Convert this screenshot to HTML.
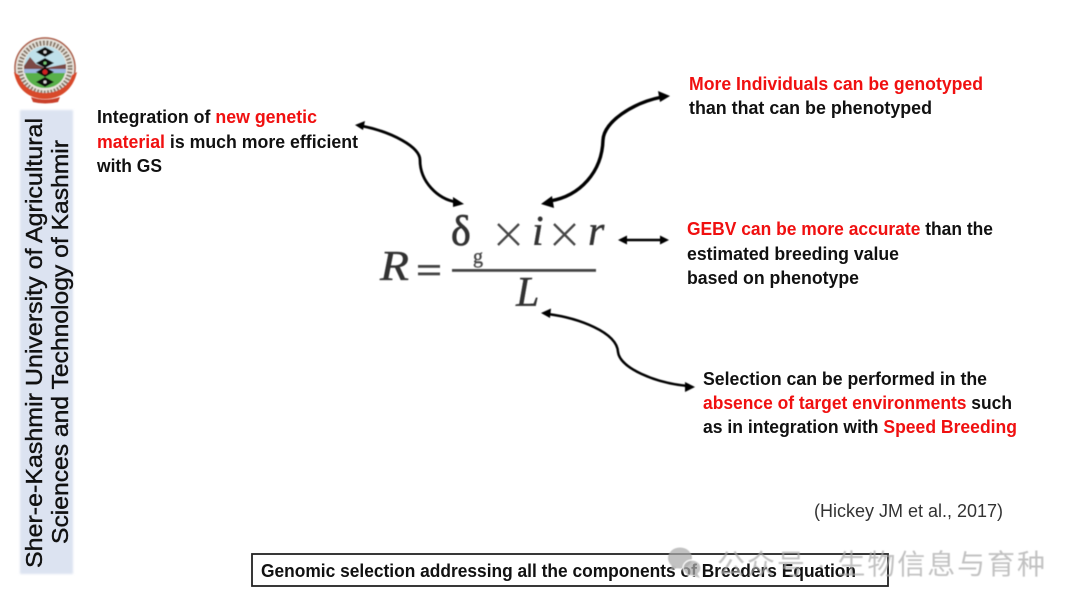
<!DOCTYPE html>
<html><head><meta charset="utf-8"><style>
html,body{margin:0;padding:0;background:#fff}
svg{display:block}
.t{font-family:"Liberation Sans",sans-serif;font-weight:bold;font-size:18.5px;fill:#111}
.r{fill:#f01010}
.m{font-family:"Liberation Serif",serif;fill:#333;font-style:italic;stroke:#333;stroke-width:.4}
</style></head><body>
<svg width="1080" height="608" viewBox="0 0 1080 608" xmlns="http://www.w3.org/2000/svg">
<defs>
<filter id="b"><feGaussianBlur stdDeviation="0.4"/></filter>
<filter id="b2"><feGaussianBlur stdDeviation="1"/></filter>
</defs>
<rect width="1080" height="608" fill="#fff"/>

<!-- logo -->
<g filter="url(#b)">
<circle cx="45" cy="68" r="30" fill="#e8e4dc" stroke="#a9573f" stroke-width="1.5"/>
<circle cx="45" cy="68" r="25" fill="none" stroke="#6f5f50" stroke-width="5" stroke-dasharray="2 1.5" opacity=".8"/>
<circle cx="45" cy="67" r="21" fill="#bfe0ea"/>
<path d="M24 66 L30 57 L36 64 L45 68 L66 64 L66 70 L24 70Z" fill="#7c4a45"/>
<path d="M24 69H66V73H24Z" fill="#9ab6de"/>
<path d="M25 73H65C63 82 55 88 45 88C35 88 27 82 25 73Z" fill="#58b04a"/>
<g fill="#111">
<path d="M45 47l9 5-9 5-9-5z"/><path d="M45 58l9 5-9 5-9-5z"/><path d="M45 67l9 5-9 5-9-5z"/><path d="M45 77l9 5-9 5-9-5z"/>
</g>
<circle cx="45" cy="72" r="2.500" fill="#d02020"/>
<circle cx="45" cy="52" r="1.500" fill="#ddd"/><circle cx="45" cy="63" r="1.500" fill="#7c7"/><circle cx="45" cy="82" r="1.500" fill="#ddd"/>
<path d="M14 72 C17 90 30 99 45 99 C60 99 73 90 77 72 L72 75 C69 86 58 93 45 93 C32 93 22 86 19 75Z" fill="#d8492c"/>
<path d="M31 97Q45 102 60 97L58 102Q45 105 33 102Z" fill="#c9402a"/>
</g>

<!-- sidebar -->
<rect x="20" y="110" width="53" height="464" fill="#dce3f1" filter="url(#b2)"/>
<g font-family="Liberation Sans,sans-serif" font-size="23" fill="#111" stroke="#111" stroke-width=".4">
<text transform="translate(42 568) rotate(-90)" textLength="450" lengthAdjust="spacingAndGlyphs">Sher-e-Kashmir University of Agricultural</text>
<text transform="translate(68 544) rotate(-90)" textLength="404" lengthAdjust="spacingAndGlyphs">Sciences and Technology of Kashmir</text>
</g>

<!-- left text -->
<text class="t" x="97" y="123" textLength="220" lengthAdjust="spacingAndGlyphs">Integration of <tspan class="r">new genetic</tspan></text>
<text class="t" x="97" y="148" textLength="261" lengthAdjust="spacingAndGlyphs"><tspan class="r">material</tspan> is much more efficient</text>
<text class="t" x="97" y="172" textLength="65" lengthAdjust="spacingAndGlyphs">with GS</text>

<!-- top right -->
<text class="t r" x="689" y="90" textLength="294" lengthAdjust="spacingAndGlyphs">More Individuals can be genotyped</text>
<text class="t" x="689" y="114" textLength="243" lengthAdjust="spacingAndGlyphs">than that can be phenotyped</text>

<!-- mid right -->
<text class="t" x="687" y="235" textLength="306" lengthAdjust="spacingAndGlyphs"><tspan class="r">GEBV can be more accurate</tspan> than the</text>
<text class="t" x="687" y="260" textLength="212" lengthAdjust="spacingAndGlyphs">estimated breeding value</text>
<text class="t" x="687" y="284" textLength="172" lengthAdjust="spacingAndGlyphs">based on phenotype</text>

<!-- lower right -->
<text class="t" x="703" y="385" textLength="284" lengthAdjust="spacingAndGlyphs">Selection can be performed in the</text>
<text class="t" x="703" y="409" textLength="309" lengthAdjust="spacingAndGlyphs"><tspan class="r">absence of target environments</tspan> such</text>
<text class="t" x="703" y="433" textLength="314" lengthAdjust="spacingAndGlyphs">as in integration with <tspan class="r">Speed Breeding</tspan></text>

<text x="814" y="517" font-family="Liberation Sans,sans-serif" font-size="18" fill="#333" textLength="189" lengthAdjust="spacingAndGlyphs">(Hickey JM et al., 2017)</text>

<!-- formula -->
<g filter="url(#b)">
<text class="m" x="380" y="280" font-size="42" textLength="29" lengthAdjust="spacingAndGlyphs">R</text>
<rect x="418" y="265" width="22" height="2.800" fill="#444"/>
<rect x="418" y="272.500" width="22" height="2.800" fill="#444"/>
<text x="451" y="245" font-family="Liberation Serif,serif" font-size="42" fill="#333" stroke="#333" stroke-width=".7">δ</text>
<text x="473" y="263" font-family="Liberation Serif,serif" font-size="20" fill="#444" stroke="#444" stroke-width=".4">g</text>
<path d="M498 224L519 245M519 224L498 245M554 224L575 245M575 224L554 245" stroke="#444" stroke-width="2.300" fill="none"/>
<text class="m" x="532" y="245" font-size="42">i</text>
<text class="m" x="588" y="245" font-size="42">r</text>
<rect x="452" y="269" width="144" height="2.800" fill="#444"/>
<text class="m" x="516" y="306" font-size="42">L</text>
</g>

<!-- arrows -->
<g fill="none" stroke="#000" stroke-linecap="round" filter="url(#b)">
<path d="M362 126C392 132 420 147 420 160C420 182 438 199 456 202" stroke-width="2.800"/>
<path d="M662 97C632 103 604 122 603 140C602 172 580 196 550 201" stroke-width="3.400"/>
<path d="M624 240H663" stroke-width="2.400"/>
<path d="M548 314C578 318 617 332 618 352C620 368 655 383 688 386" stroke-width="2.500"/>
</g>
<g fill="#000" filter="url(#b)">
<path d="M355 125L365 121L363 130Z"/>
<path d="M464 204L453 197L453 207Z"/>
<path d="M670 96L658 91L660 102Z"/>
<path d="M541 204L552 196L554 208Z"/>
<path d="M618 240L627 235.500L627 244.500Z"/>
<path d="M669 240L660 235.500L660 244.500Z"/>
<path d="M541 313L551 308.500L550 318Z"/>
<path d="M695 387L685 382L685 392Z"/>
</g>

<!-- box -->
<rect x="252" y="554" width="636" height="32" fill="none" stroke="#222" stroke-width="1.800"/>
<text class="t" x="261" y="577" textLength="595" lengthAdjust="spacingAndGlyphs">Genomic selection addressing all the components of Breeders Equation</text>

<!-- watermark -->
<g fill="#aaa" fill-opacity=".72" filter="url(#b)">
<ellipse cx="680" cy="558" rx="12" ry="10.500"/>
<path d="M672 565l-2 6 7-3z"/>
<ellipse cx="692" cy="568" rx="9" ry="8" stroke="#fff" stroke-width="1.200"/>
<path d="M697 573l3 5-6-2z"/>
<text x="717" y="574" font-family="Liberation Sans,'Noto Sans CJK SC',sans-serif" font-size="28" textLength="328">公众号 · 生物信息与育种</text>
</g>
</svg>
</body></html>
